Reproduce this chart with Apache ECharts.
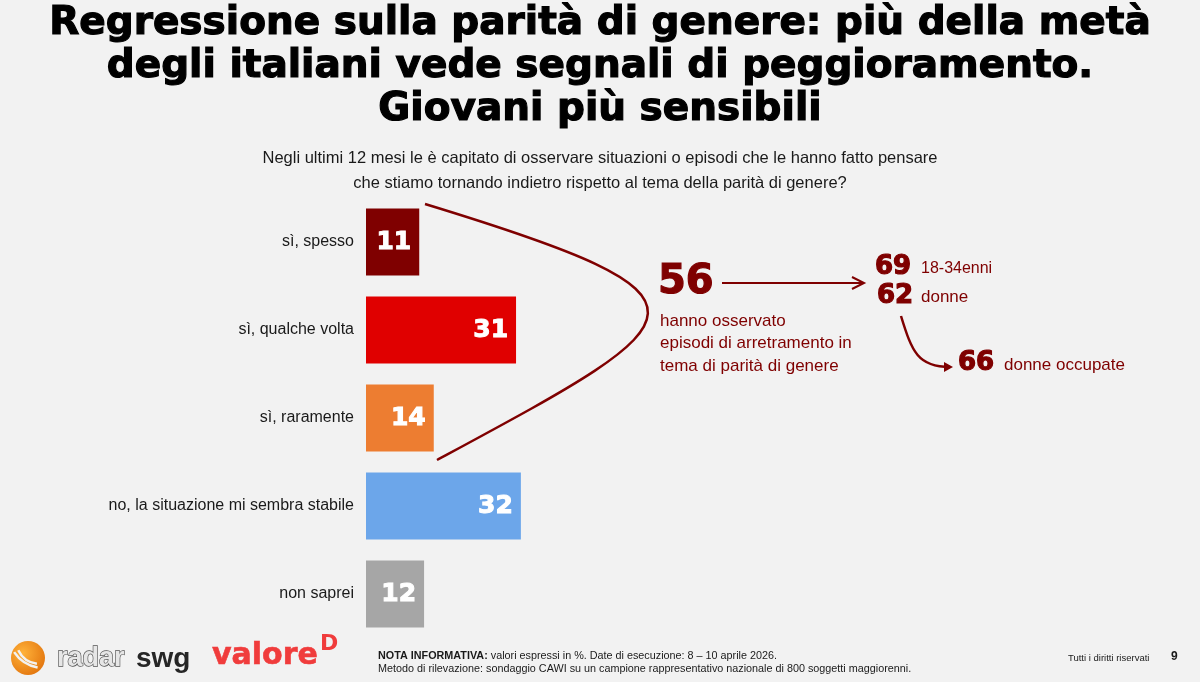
<!DOCTYPE html>
<html>
<head>
<meta charset="utf-8">
<script src="https://cdn.jsdelivr.net/npm/echarts@6/dist/echarts.min.js"></script>
<style>
  html, body { margin: 0; padding: 0; background: #f2f2f2; }
  #chart { width: 1200px; height: 682px; }
</style>
</head>
<body>
<div id="chart"></div>
<script>
// risposte e percentuali
const categories = ['sì, spesso', 'sì, qualche volta', 'sì, raramente', 'no, la situazione mi sembra stabile', 'non saprei']
const values = [11, 31, 14, 32, 12]
const barColors = ['#7f0000', '#e00000', '#ed7d31', '#6ca6ea', '#a6a6a6']

// dati del riquadro a destra
const totalSi = 56
const subValues = [69, 62, 66]
const subLabels = ['18-34enni', 'donne', 'donne occupate']

const titleLines = [
  'Regressione sulla parità di genere: più della metà',
  'degli italiani vede segnali di peggioramento.',
  'Giovani più sensibili',
]
const questionLines = [
  'Negli ultimi 12 mesi le è capitato di osservare situazioni o episodi che le hanno fatto pensare',
  'che stiamo tornando indietro rispetto al tema della parità di genere?',
]

const DARK = '#7f0000'
const HEAVY = 'bold 26px DejaVu Sans'
const chart = echarts.init(document.getElementById('chart'))

// testo "pesante" (simula Arial Black con un contorno)
const heavyText = (x, y, text, font, fill, extra) => ({
  type: 'text',
  x,
  y,
  style: Object.assign({ text, font, fill, stroke: fill, lineWidth: 1.2 }, extra || {}),
})

const graphics = []

titleLines.forEach((t, i) => {
  graphics.push(heavyText(600, 4 + i * 43, t, 'bold 39px DejaVu Sans', '#000', { align: 'center' }))
})
questionLines.forEach((t, i) => {
  graphics.push({
    type: 'text',
    x: 600,
    y: 150 + i * 25,
    style: { text: t, font: '16.5px "Liberation Sans", Arial', fill: '#1a1a1a', align: 'center' },
  })
})

graphics.push(
  // parentesi curva
  {
    type: 'bezierCurve',
    shape: { x1: 425, y1: 204, cpx1: 740, cpy1: 300, cpx2: 700, cpy2: 318, x2: 437, y2: 460 },
    style: { stroke: DARK, lineWidth: 2.5, fill: null },
  },
  heavyText(658, 263, String(totalSi), 'bold 40px DejaVu Sans', DARK),
  {
    type: 'text',
    x: 660,
    y: 310,
    style: {
      text: 'hanno osservato\nepisodi di arretramento in\ntema di parità di genere',
      font: '17px "Liberation Sans", Arial',
      lineHeight: 22.5,
      fill: DARK,
    },
  },
  // freccia 56 -> 69/62
  {
    type: 'line',
    shape: { x1: 722, y1: 283, x2: 862, y2: 283 },
    style: { stroke: DARK, lineWidth: 2 },
  },
  {
    type: 'polyline',
    shape: { points: [[852, 277], [864, 283], [852, 289]] },
    style: { stroke: DARK, lineWidth: 2, fill: null },
  },
  heavyText(875, 254, String(subValues[0]), HEAVY, DARK),
  {
    type: 'text',
    x: 921,
    y: 261,
    style: { text: subLabels[0], font: '16px "Liberation Sans", Arial', fill: DARK },
  },
  heavyText(877, 283, String(subValues[1]), HEAVY, DARK),
  {
    type: 'text',
    x: 921,
    y: 289,
    style: { text: subLabels[1], font: '17px "Liberation Sans", Arial', fill: DARK },
  },
  // freccia curva -> 66
  {
    type: 'bezierCurve',
    shape: { x1: 901, y1: 316, cpx1: 912, cpy1: 352, cpx2: 918, cpy2: 367, x2: 950, y2: 367 },
    style: { stroke: DARK, lineWidth: 2.5, fill: null },
  },
  {
    type: 'polygon',
    shape: { points: [[944, 362], [953, 367], [944, 372]] },
    style: { fill: DARK },
  },
  heavyText(958, 350, String(subValues[2]), HEAVY, DARK),
  {
    type: 'text',
    x: 1004,
    y: 357,
    style: { text: subLabels[2], font: '17px "Liberation Sans", Arial', fill: DARK },
  },
  // logo radar swg
  {
    type: 'circle',
    shape: { cx: 28, cy: 658, r: 17 },
    style: {
      fill: new echarts.graphic.RadialGradient(0.35, 0.35, 0.8, [
        { offset: 0, color: '#ffb23a' },
        { offset: 1, color: '#e0700a' },
      ]),
    },
  },
  {
    type: 'arc',
    shape: { cx: 40, cy: 640, r: 24, startAngle: 1.7, endAngle: 2.7 },
    style: { stroke: '#f2f2f2', lineWidth: 2.5, fill: null },
  },
  {
    type: 'arc',
    shape: { cx: 44, cy: 632, r: 36, startAngle: 1.75, endAngle: 2.55 },
    style: { stroke: '#f2f2f2', lineWidth: 2.5, fill: null },
  },
  {
    type: 'text',
    x: 57,
    y: 645,
    style: {
      text: 'radar',
      font: 'bold 27px "Liberation Sans", Arial',
      fill: '#e6e6e6',
      stroke: '#555',
      lineWidth: 1.3,
    },
  },
  {
    type: 'text',
    x: 136,
    y: 645,
    style: { text: 'swg', font: 'bold 28px "Liberation Sans", Arial', fill: '#262626' },
  },
  // logo valore D
  heavyText(212, 641, 'valore', 'bold 30px "DejaVu Sans", sans-serif', '#f03c3c', { lineWidth: 0.6 }),
  {
    type: 'text',
    x: 320,
    y: 633,
    style: { text: 'D', font: 'bold 22px "DejaVu Sans", sans-serif', fill: '#f03c3c' },
  },
  // nota
  {
    type: 'text',
    x: 378,
    y: 649,
    style: {
      text: '{b|NOTA INFORMATIVA:} valori espressi in %. Date di esecuzione: 8 – 10 aprile 2026.\nMetodo di rilevazione: sondaggio CAWI su un campione rappresentativo nazionale di 800 soggetti maggiorenni.',
      font: '10.8px "Liberation Sans", Arial',
      lineHeight: 13.5,
      fill: '#1a1a1a',
      rich: {
        b: { fontWeight: 'bold', fontSize: 10.8, fontFamily: 'Liberation Sans, Arial', fill: '#1a1a1a' },
      },
    },
  },
  {
    type: 'text',
    x: 1068,
    y: 653,
    style: { text: 'Tutti i diritti riservati', font: '9.5px "Liberation Sans", Arial', fill: '#1a1a1a' },
  },
  {
    type: 'text',
    x: 1171,
    y: 651,
    style: { text: '9', font: 'bold 12px "Liberation Sans", Arial', fill: '#1a1a1a' },
  }
)

const option = {
  backgroundColor: '#f2f2f2',
  animation: false,
  grid: { left: 366, top: 198, width: 484, height: 440 },
  xAxis: { type: 'value', min: 0, max: 100, show: false },
  yAxis: {
    type: 'category',
    data: categories,
    inverse: true,
    axisLine: { show: false },
    axisTick: { show: false },
    axisLabel: {
      margin: 12,
      fontSize: 16,
      color: '#1a1a1a',
      fontFamily: 'Liberation Sans, Arial, sans-serif',
    },
  },
  series: [
    {
      type: 'bar',
      barWidth: 67,
      data: values.map((v, i) => ({ value: v, itemStyle: { color: barColors[i] } })),
      label: {
        show: true,
        position: 'insideRight',
        distance: 8,
        color: '#fff',
        fontSize: 25,
        fontWeight: 'bold',
        fontFamily: 'DejaVu Sans, sans-serif',
        textBorderColor: '#fff',
        textBorderWidth: 1,
      },
    },
  ],
  graphic: graphics,
}

chart.setOption(option)
</script>
</body>
</html>
